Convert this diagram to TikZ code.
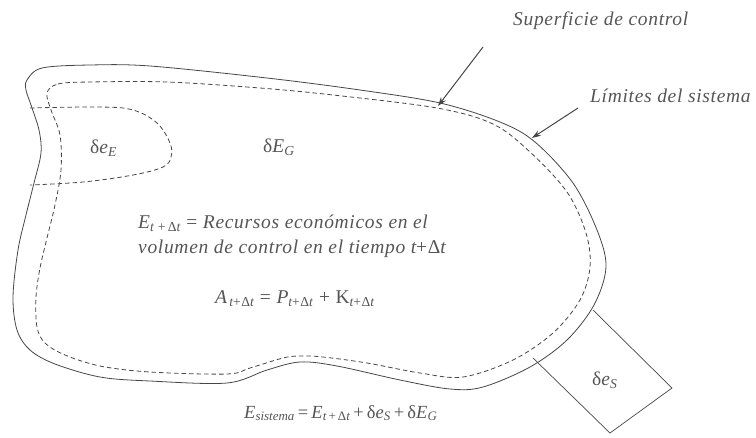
\documentclass[tikz,border=0pt]{standalone}
\usepackage{fontspec}
\setmainfont{Liberation Serif}[LetterSpace=3.5]
\usetikzlibrary{arrows.meta}
\definecolor{ink}{RGB}{70,70,70}
\definecolor{txt}{RGB}{85,85,85}
\newcommand{\msub}[1]{\textsubscript{#1}}
\newcommand{\up}[1]{{\upshape #1}}
\begin{document}
\begin{tikzpicture}[x=1pt,y=-1pt,
  lbl/.style={text=txt, font=\fontsize{19.5}{23}\selectfont\itshape, inner sep=0pt, anchor=base west},
  sysline/.style={draw=ink, line width=0.8pt},
  cvline/.style={draw=ink, line width=0.8pt, dash pattern=on 4.5pt off 3pt},
  arr/.style={draw=ink, line width=1pt, -{Stealth[length=9pt,width=6pt]}}]
\useasboundingbox (0,0) rectangle (756,437);

% system boundary (solid)
\draw[sysline] plot[smooth cycle, tension=0.55] coordinates {
 (27,80) (42,68) (90,65) (150,66) (267,78) (360,90) (440,103) (500,122)
 (535,142) (573,183) (597,230) (606,267) (594,305) (567,340) (530,367)
 (483,387) (450,389) (400,380) (337,366) (300,362) (267,370) (227,383)
 (150,381) (100,377) (55,364) (30,350) (17,330) (13,297) (18,250)
 (26,215) (34,183) (41,153) (39,130) (31,105) (26,90)};

% control surface (dashed)
\draw[cvline] plot[smooth cycle, tension=0.55] coordinates {
 (47,93) (58,84) (90,82) (167,82) (260,88) (333,95) (437,108) (493,124)
 (530,152) (567,192) (586,233) (590,267) (580,300) (553,333) (513,360)
 (463,377) (420,373) (367,363) (323,357) (300,356) (283,358) (250,368)
 (227,374) (150,372) (100,366) (65,355) (45,343) (37,327) (36,297)
 (40,268) (47,238) (55,205) (61,170) (60,135) (51,110)};

% entering region (dashed)
\draw[cvline] plot[smooth, tension=0.6] coordinates {
 (30,108) (100,107) (133,110) (157,123) (170,143) (171,157) (163,167)
 (133,175) (83,182) (30,185)};

% exit box
\coordinate (b1) at (533,358);
\coordinate (b2) at (610,433);
\coordinate (b3) at (672,388);
\coordinate (b4) at (593,310);
\draw[sysline, line width=0.7pt] (b1) -- (b2) -- (b3) -- (b4);

% labels
\node[lbl] (sup) at (513,25) {Superficie de control};
\node[lbl] (lim) at (590,102) {Límites del sistema};
\node[lbl] (dee) at (90,153) {\up{δ}e\msub{E}};
\node[lbl] (deg) at (263,152) {\up{δ}E\msub{G}};
\node[lbl] (rec) at (138,228) {E\msub{t \up{+\,Δ}t} \up{=} Recursos económicos en el};
\node[lbl] (vol) at (138,253) {volumen de control en el tiempo t\up{+Δ}t};
\node[lbl] (aeq) at (215,303) {A\msub{\,t\up{+Δ}t} \up{=} P\msub{t\up{+Δ}t} \up{+ K}\msub{t\up{+Δ}t}};
\node[lbl] (des) at (592,385) {\up{δ}e\msub{S}};
\node[lbl, font=\fontsize{18.5}{22}\selectfont\itshape\addfontfeatures{LetterSpace=0}] (esis) at (244,418)
 {E\msub{sistema}\,\up{=}\,E\msub{t\,\up{+\,Δ}t}\,\up{+\,δ}e\msub{S}\,\up{+\,δ}E\msub{G}};

% arrows
\coordinate (s0) at (483,47);
\coordinate (s1) at (438,106);
\coordinate (l0) at (578,108);
\coordinate (l1) at (532,138);
\draw[arr] (s0) -- (s1);
\draw[arr] (l0) -- (l1);
\end{tikzpicture}
\end{document}
